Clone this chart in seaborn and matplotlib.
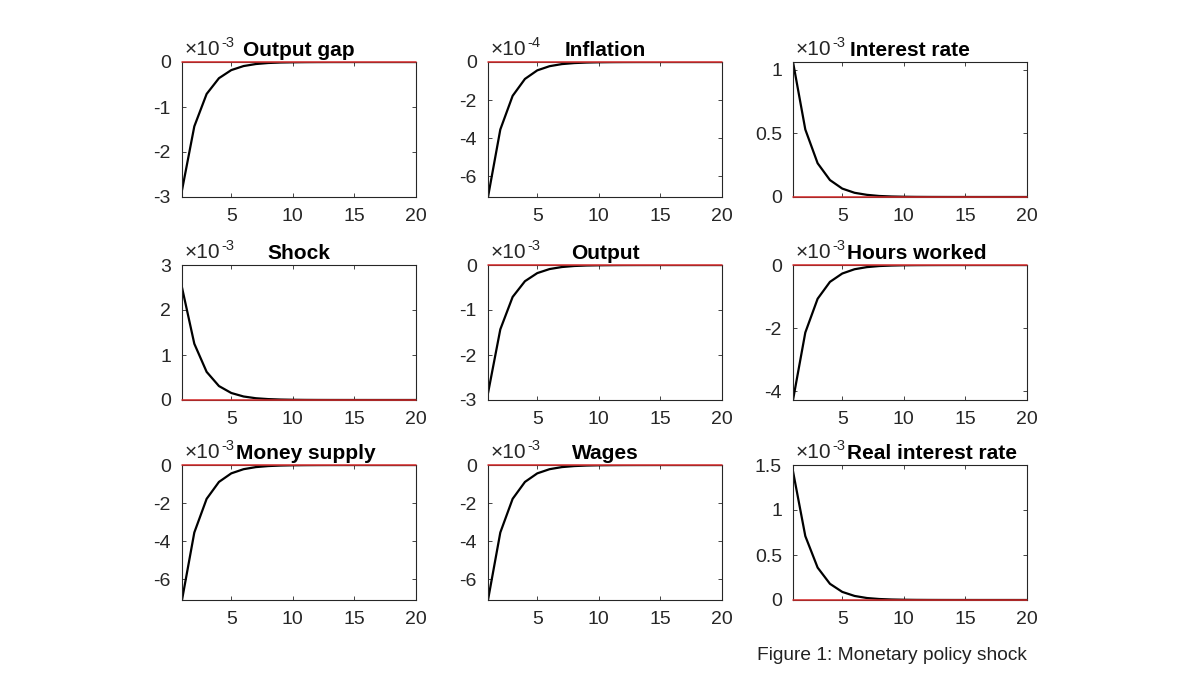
import numpy as np
import pandas as pd
import matplotlib
matplotlib.use("Agg")
import matplotlib.pyplot as plt
import seaborn as sns

periods = list(range(1, 21))

# impulse responses, in units of the panel's exponent
output_gap = [-2.85, -1.43, -0.71, -0.36, -0.18, -0.09, -0.045, -0.022, -0.011, -0.006,
              -0.003, -0.0014, -0.0007, -0.0004, -0.0002, -0.0001, -0.00005, -0.00003, -0.00001, -0.00001]
inflation = [-7.1, -3.55, -1.78, -0.89, -0.44, -0.22, -0.11, -0.056, -0.028, -0.014,
             -0.007, -0.0035, -0.0017, -0.0009, -0.0004, -0.0002, -0.0001, -0.00005, -0.00003, -0.00001]
interest_rate = [1.06, 0.53, 0.265, 0.133, 0.066, 0.033, 0.017, 0.008, 0.004, 0.002,
                 0.001, 0.0005, 0.0003, 0.0001, 0.00007, 0.00003, 0.00002, 0.00001, 0.0, 0.0]
shock = [2.5, 1.25, 0.625, 0.31, 0.156, 0.078, 0.039, 0.02, 0.01, 0.005,
         0.0024, 0.0012, 0.0006, 0.0003, 0.00015, 0.00008, 0.00004, 0.00002, 0.00001, 0.0]
output = [-2.85, -1.43, -0.71, -0.36, -0.18, -0.09, -0.045, -0.022, -0.011, -0.006,
          -0.003, -0.0014, -0.0007, -0.0004, -0.0002, -0.0001, -0.00005, -0.00003, -0.00001, -0.00001]
hours_worked = [-4.28, -2.14, -1.07, -0.535, -0.27, -0.134, -0.067, -0.033, -0.017, -0.008,
                -0.004, -0.002, -0.001, -0.0005, -0.0003, -0.00013, -0.00007, -0.00003, -0.00002, -0.00001]
money_supply = [-7.1, -3.55, -1.78, -0.89, -0.44, -0.22, -0.11, -0.056, -0.028, -0.014,
                -0.007, -0.0035, -0.0017, -0.0009, -0.0004, -0.0002, -0.0001, -0.00005, -0.00003, -0.00001]
wages = [-7.1, -3.55, -1.78, -0.89, -0.44, -0.22, -0.11, -0.056, -0.028, -0.014,
         -0.007, -0.0035, -0.0017, -0.0009, -0.0004, -0.0002, -0.0001, -0.00005, -0.00003, -0.00001]
real_interest_rate = [1.43, 0.71, 0.36, 0.18, 0.09, 0.045, 0.022, 0.011, 0.0056, 0.0028,
                      0.0014, 0.0007, 0.00035, 0.00017, 0.00009, 0.00004, 0.00002, 0.00001, 0.0, 0.0]

titles = ["Output gap", "Inflation", "Interest rate",
          "Shock", "Output", "Hours worked",
          "Money supply", "Wages", "Real interest rate"]
series = [output_gap, inflation, interest_rate,
          shock, output, hours_worked,
          money_supply, wages, real_interest_rate]
exponents = ["-3", "-4", "-3", "-3", "-3", "-3", "-3", "-3", "-3"]
yticks = [[-3, -2, -1, 0], [-6, -4, -2, 0], [0, 0.5, 1],
          [0, 1, 2, 3], [-3, -2, -1, 0], [-4, -2, 0],
          [-6, -4, -2, 0], [-6, -4, -2, 0], [0, 0.5, 1, 1.5]]
ylims = [(-3, 0), (-7.1, 0), (0, 1.06),
         (0, 3), (-3, 0), (-4.28, 0),
         (-7.1, 0), (-7.1, 0), (0, 1.5)]

sns.set_style("ticks")
plt.rcParams["font.family"] = ["Liberation Sans", "DejaVu Sans"]
plt.rcParams["axes.unicode_minus"] = False

W, H = 1200, 675
fig = plt.figure(figsize=(12, 6.75), dpi=100)

lefts = [182, 488, 793]
tops = [62, 265, 465]
aw, ah = 234, 135

axes, exp_texts = [], []
for i, (title, vals) in enumerate(zip(titles, series)):
    r, c = divmod(i, 3)
    ax = fig.add_axes([lefts[c] / W, 1 - (tops[r] + ah) / H, aw / W, ah / H])
    df = pd.DataFrame({"period": periods, "value": vals})
    sns.lineplot(data=df, x="period", y="value", ax=ax, color="black", linewidth=1.6)
    zero = pd.DataFrame({"period": periods, "value": [0] * len(periods)})
    sns.lineplot(data=zero, x="period", y="value", ax=ax, color="#d42a2a",
                 linewidth=1.1, zorder=3, clip_on=False)
    ax.set_xlim(1, 20)
    ax.set_ylim(*ylims[i])
    ax.set_xticks([5, 10, 15, 20])
    ax.set_yticks(yticks[i])
    ax.set_yticklabels([f"{v:g}" for v in yticks[i]])
    ax.set_xlabel("")
    ax.set_ylabel("")
    for s in ax.spines.values():
        s.set_color("#262626")
        s.set_linewidth(0.8)
        s.set_visible(True)
    ax.tick_params(direction="in", length=3, width=0.6, color="#262626",
                   top=True, right=True, labelsize=14, labelcolor="#262626", pad=8)
    ax.set_title(title, fontsize=15, fontweight="bold", pad=4, color="black")
    # exponent label: "×10" with a raised "-3" (plain hyphen, as in the original)
    base = ax.text(0.012, 1.02, "\u00d710", transform=ax.transAxes,
                   ha="left", va="bottom", fontsize=15, color="#262626")
    axes.append(ax)
    exp_texts.append(base)

fig.canvas.draw()
renderer = fig.canvas.get_renderer()
sup_texts = []
for ax, base, e in zip(axes, exp_texts, exponents):
    bb = base.get_window_extent(renderer)
    x0, y0 = fig.transFigure.inverted().transform((bb.x1 + 1, bb.y0 + 9))
    sup_texts.append(fig.text(x0, y0, e, ha="left", va="bottom", fontsize=10.5, color="#262626"))

# shift titles right when they would run into the exponent label, as MATLAB does
fig.canvas.draw()
for ax, st in zip(axes, sup_texts):
    eb = st.get_window_extent(renderer)
    tb = ax.title.get_window_extent(renderer)
    if tb.x0 < eb.x1 + 2:
        shift = (eb.x1 + 2 - tb.x0) / aw
        x, y = ax.title.get_position()
        ax.title.set_position((x + shift, y))

fig.text(757 / W, 1 - 656 / H, "Figure 1: Monetary policy shock", ha="left", va="center",
         fontsize=13.8, color="#222222")

fig.savefig("out.png", dpi=100)
